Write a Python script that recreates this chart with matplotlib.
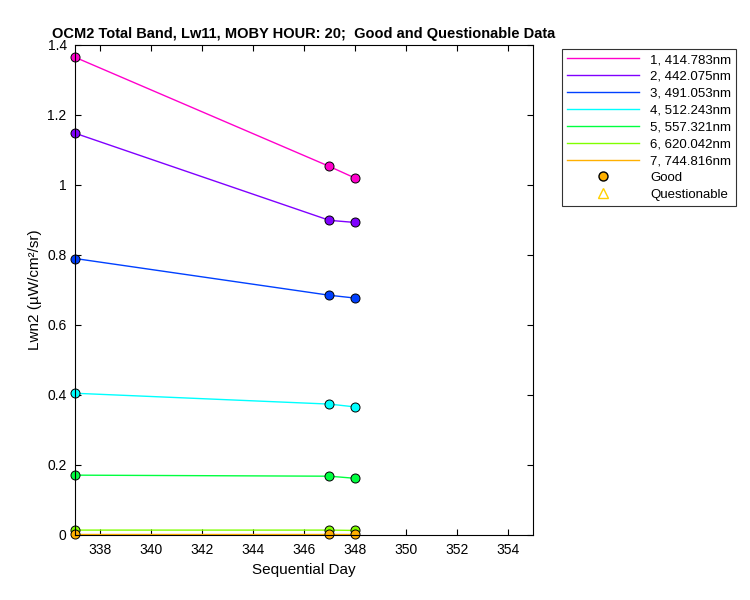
import matplotlib.pyplot as plt
from matplotlib.lines import Line2D

days = [337, 347, 348]
bands = ["1, 414.783nm", "2, 442.075nm", "3, 491.053nm", "4, 512.243nm",
         "5, 557.321nm", "6, 620.042nm", "7, 744.816nm"]
lwn = [
    [1.365, 1.053, 1.020],
    [1.148, 0.899, 0.893],
    [0.790, 0.685, 0.677],
    [0.405, 0.374, 0.366],
    [0.171, 0.168, 0.162],
    [0.014, 0.014, 0.013],
    [0.002, 0.002, 0.002],
]
colors = ["#FF00CC", "#8000FF", "#0040FF", "#00FFFF", "#00FF40", "#80FF00", "#FFB000"]

plt.rcParams['font.family'] = ['Liberation Sans', 'DejaVu Sans']
fig = plt.figure(figsize=(7.5, 6), dpi=100)
ax = fig.add_axes([75/750, 65/600, 458/750, 490/600])

handles = []
for name, vals, c in zip(bands, lwn, colors):
    ax.plot(days, vals, color=c, lw=1)
    ax.plot(days, vals, 'o', mfc=c, mec='black', mew=0.7, ms=6.5, clip_on=False)
    handles.append(Line2D([], [], color=c, lw=1, label=name))
handles.append(Line2D([], [], ls='none', marker='o', mfc='#FFB000', mec='black', ms=6.5, label='Good'))
handles.append(Line2D([], [], ls='none', marker='^', mfc='none', mec='#FFD000', ms=6.5, label='Questionable'))

ax.set_xlim(337, 355)
ax.set_ylim(0, 1.4)
ax.set_xticks(range(338, 356, 2))
ax.set_yticks([0, 0.2, 0.4, 0.6, 0.8, 1, 1.2, 1.4])
ax.set_yticklabels(['0', '0.2', '0.4', '0.6', '0.8', '1', '1.2', '1.4'])
for s in ax.spines.values():
    s.set_linewidth(0.8)
ax.tick_params(direction='in', labelsize=10, length=4, top=True, right=True, pad=6)
ax.set_xlabel('Sequential Day', fontsize=11)
ax.set_ylabel('Lwn2 (µW/cm²/sr)', fontsize=11)
ax.set_title('OCM2 Total Band, Lw11, MOBY HOUR: 20;  Good and Questionable Data',
             fontsize=10.5, fontweight='bold', pad=5)

leg = fig.legend(handles=handles, loc='upper left', bbox_to_anchor=(555/750, 1 - 42/600),
                 fontsize=9.5, frameon=True, fancybox=False, edgecolor='black',
                 handlelength=5.5, labelspacing=0.35, borderpad=0.4)
leg.get_frame().set_linewidth(0.8)

fig.savefig('out.png')
